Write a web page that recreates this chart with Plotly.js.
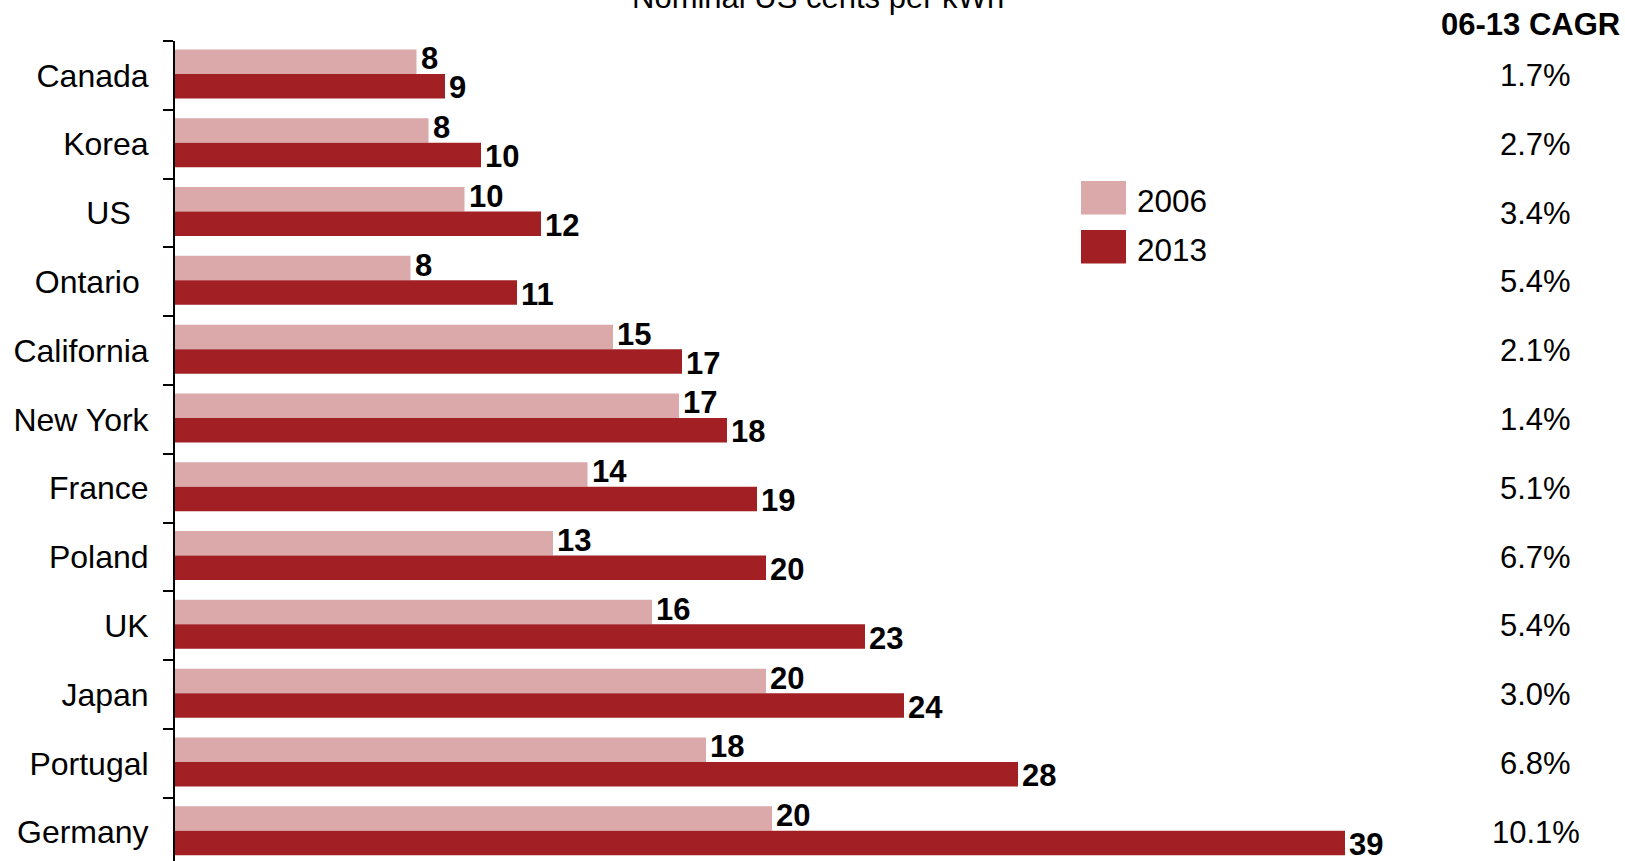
<!DOCTYPE html>
<html>
<head>
<meta charset="utf-8">
<script src="https://cdn.plot.ly/plotly-3.0.1.min.js"></script>
<style>
html,body{margin:0;padding:0;background:#fff;overflow:hidden;}
#chart{width:1625px;height:861px;}
</style>
</head>
<body>
<div id="chart"></div>
<script>
// ---- data ----
const categories = ["Canada", "Korea", "US\u00a0\u00a0", "Ontario\u00a0", "California", "New York",
                    "France", "Poland", "UK", "Japan", "Portugal", "Germany"];
const values2006 = [8.05, 8.45, 9.65, 7.85, 14.6, 16.8, 13.75, 12.6, 15.9, 19.7, 17.7, 19.9];
const values2013 = [9.0, 10.2, 12.2, 11.4, 16.9, 18.4, 19.4, 19.7, 23.0, 24.3, 28.1, 39.0];
const cagrLabels = ["1.7%", "2.7%", "3.4%", "5.4%", "2.1%", "1.4%", "5.1%", "6.7%", "5.4%", "3.0%", "6.8%", "10.1%"];
const seriesNames = ["2006", "2013"];
const subtitle = "Nominal US cents per kWh";
const cagrHeader = "06-13 CAGR";

// ---- styling / layout helpers ----
const W = 1625, H = 861;
const M = {l: 175, r: 225, t: 41, b: 0};
const plotW = W - M.l - M.r, plotH = H - M.t - M.b;
const pxPerUnit = 30.0;
const catPx = 68.8;
const px2paperX = X => (X - M.l) / plotW;
const px2paperY = Y => (H - M.b - Y) / plotH;

const FONT = '"Liberation Sans", Arial, Helvetica, sans-serif';
const colors = ["#DBA9A9", "#A22024"];
const barWidth = 0.356;
const barOffsets = [-0.377, -0.021];

const traces = [values2006, values2013].map((vals, i) => ({
  type: 'bar',
  orientation: 'h',
  name: seriesNames[i],
  y: categories,
  x: vals,
  width: barWidth,
  offset: barOffsets[i],
  marker: {color: colors[i], line: {width: 0}},
  hoverinfo: 'x+y+name'
}));

const annotations = [];
// value labels at bar ends
const labelShift = [16.5, -12.5];
[values2006, values2013].forEach((vals, s) => {
  vals.forEach((v, i) => {
    annotations.push({
      xref: 'x', yref: 'y', x: v, y: categories[i],
      text: '<b>' + Math.round(v) + '</b>', showarrow: false,
      xanchor: 'left', yanchor: 'middle', xshift: 2, yshift: labelShift[s],
      font: {family: FONT, size: 31, color: '#000'}
    });
  });
});
annotations.push({
  xref: 'paper', yref: 'paper', x: px2paperX(818), y: px2paperY(-2),
  text: subtitle, showarrow: false, xanchor: 'center', yanchor: 'middle',
  font: {family: FONT, size: 31, color: '#000'}
});
annotations.push({
  xref: 'paper', yref: 'paper', x: px2paperX(1530), y: px2paperY(25),
  text: '<b>' + cagrHeader + '</b>', showarrow: false, xanchor: 'center', yanchor: 'middle',
  font: {family: FONT, size: 31, color: '#000'}
});
categories.forEach((c, i) => {
  annotations.push({
    xref: 'paper', yref: 'y', x: px2paperX(1535.5), y: c,
    text: cagrLabels[i], showarrow: false, xanchor: 'center', yanchor: 'middle',
    font: {family: FONT, size: 31, color: '#000'}
  });
});

// manual legend (large swatches)
const shapes = [];
const legendItems = [
  {y0: 181, y1: 214.5, ty: 201},
  {y0: 230, y1: 263.5, ty: 250}
];
legendItems.forEach((it, i) => {
  shapes.push({
    type: 'rect', xref: 'paper', yref: 'paper',
    x0: px2paperX(1081), x1: px2paperX(1126),
    y0: px2paperY(it.y1), y1: px2paperY(it.y0),
    fillcolor: colors[i], line: {width: 0}
  });
  annotations.push({
    xref: 'paper', yref: 'paper', x: px2paperX(1135), y: px2paperY(it.ty),
    text: seriesNames[i], showarrow: false, xanchor: 'left', yanchor: 'middle',
    font: {family: FONT, size: 31.5, color: '#000'}
  });
});

const layout = {
  width: W, height: H,
  margin: M,
  paper_bgcolor: '#fff', plot_bgcolor: '#fff',
  showlegend: false,
  barmode: 'group',
  font: {family: FONT, color: '#000'},
  xaxis: {
    visible: false,
    range: [0, plotW / pxPerUnit],
    fixedrange: true
  },
  yaxis: {
    type: 'category',
    range: [-0.5 + plotH / catPx, -0.5],
    showline: true, linecolor: '#000', linewidth: 2,
    ticks: 'outside', ticklen: 10, tickwidth: 2, tickcolor: '#000',
    tickson: 'boundaries',
    ticklabelstandoff: 18,
    showgrid: false, zeroline: false,
    tickfont: {family: FONT, size: 32, color: '#000'},
    fixedrange: true
  },
  annotations: annotations,
  shapes: shapes
};

Plotly.newPlot('chart', traces, layout, {displayModeBar: false, staticPlot: true});
</script>
</body>
</html>
